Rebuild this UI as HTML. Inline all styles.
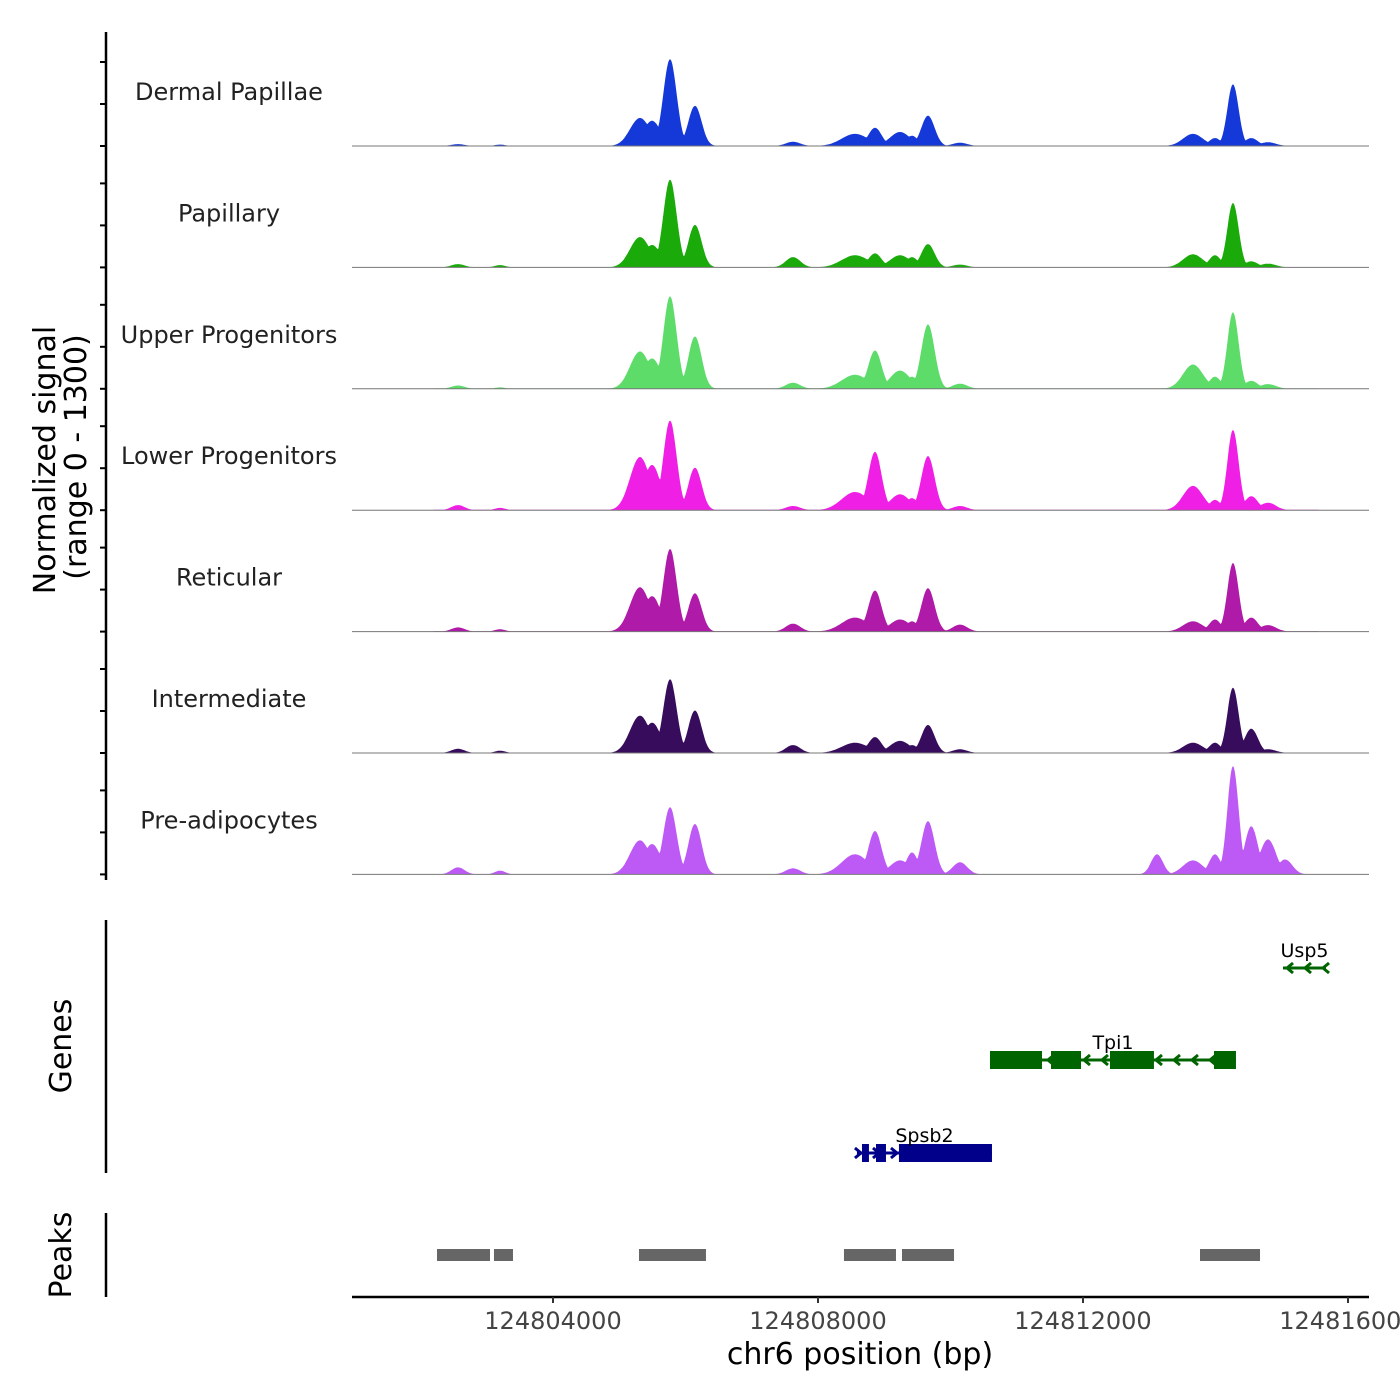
<!DOCTYPE html>
<html><head><meta charset="utf-8">
<style>
html,body{margin:0;padding:0;background:#fff;}
svg{display:block;font-family:"DejaVu Sans","Liberation Sans",sans-serif;}
</style></head>
<body>
<svg id="chart" width="1400" height="1400" viewBox="0 0 1400 1400" xmlns="http://www.w3.org/2000/svg">
<g id="tracks"></g>
<g id="leftaxis"></g>
<text transform="translate(55,460) rotate(-90)" text-anchor="middle" font-size="30" fill="#000">Normalized signal</text>
<text transform="translate(86,457) rotate(-90)" text-anchor="middle" font-size="30" fill="#000">(range 0 - 1300)</text>
<line x1="106" y1="920" x2="106" y2="1173" stroke="#000" stroke-width="2.5"/>
<text transform="translate(71,1046) rotate(-90)" text-anchor="middle" font-size="30" fill="#000">Genes</text>
<line x1="106" y1="1213" x2="106" y2="1297" stroke="#000" stroke-width="2.5"/>
<text transform="translate(71,1255) rotate(-90)" text-anchor="middle" font-size="30" fill="#000">Peaks</text>
<g id="genes"></g>
<g id="peaks"></g>
<g id="xaxis"></g>
<text x="860" y="1364" text-anchor="middle" font-size="30" fill="#000">chr6 position (bp)</text>
</svg>
<script>
const trackNames = ["Dermal Papillae","Papillary","Upper Progenitors","Lower Progenitors","Reticular","Intermediate","Pre-adipocytes"];
const trackColors = ["#1538d8","#1aaa0a","#5ddc6a","#f01fe6","#b01aa8","#380c5c","#bd5af5"];
const peakPositions = [124802566,124803200,124805313,124805494,124805766,124806143,124807623,124808558,124808860,124809238,124809419,124809660,124810143,124813117,124813660,124813992,124814264,124814540,124814792,124815050];
const peakWidths = [100,80,150,130,100,100,110,200,100,150,90,100,110,90,150,90,85,100,120,110];
const sigDermal = [20,15,300,270,930,430,45,130,195,150,110,325,35,0,130,85,660,85,40,0];
const sigPapillary = [35,25,325,240,940,455,110,130,150,130,110,250,30,0,140,130,690,65,40,0];
const sigUpper = [35,15,400,325,990,560,65,150,410,195,130,690,55,0,260,130,820,85,50,0];
const sigLower = [55,25,570,485,960,455,45,195,625,170,130,580,45,0,260,110,860,150,80,0];
const sigReticular = [45,25,475,380,885,410,85,150,440,130,110,465,75,0,110,130,735,150,70,0];
const sigIntermediate = [45,25,400,325,790,455,85,110,170,130,85,300,40,0,110,110,700,260,40,0];
const sigPreadip = [75,40,365,325,720,540,65,215,465,150,235,570,130,215,150,215,1160,515,375,160];
const trackSignals = [sigDermal,sigPapillary,sigUpper,sigLower,sigReticular,sigIntermediate,sigPreadip];
const xTicks = [124804000,124808000,124812000,124816000];
const xTickLabels = ["124804000","124808000","124812000","124816000"];
const peakStarts = [124802249,124803109,124805298,124808392,124809268,124813766];
const peakEnds = [124803049,124803396,124806309,124809177,124810053,124814672];
const tpi1Exons = [[124810596,124811381],[124811517,124811970],[124812407,124813071],[124813977,124814309]];
const spsb2Exons = [[124808664,124808769],[124808875,124809026],[124809222,124810626]];
const geneNames = ["Usp5","Tpi1","Spsb2"];
const geneStarts = [124815019,124810596,124808588];
const geneEnds = [124815668,124814309,124810626];

const NS="http://www.w3.org/2000/svg";
const X0=352,X1=1369,BP0=124800966,BP1=124816317;
const xs=bp=>X0+(bp-BP0)/(BP1-BP0)*(X1-X0);
const TRACK_H=121.4, FIRST_BASE=146, YMAX=1300;
const ys=(v,base)=>base-v/YMAX*TRACK_H;
function mk(tag,attrs,parent){const e=document.createElementNS(NS,tag);for(const k in attrs)e.setAttribute(k,attrs[k]);parent.appendChild(e);return e;}

const tracks=document.getElementById('tracks');
const leftaxis=document.getElementById('leftaxis');
mk('line',{x1:106,y1:32,x2:106,y2:880,stroke:'#000','stroke-width':2.5},leftaxis);
const START=124802200, END=124815550;
trackNames.forEach((name,i)=>{
  const base=FIRST_BASE+i*TRACK_H;
  const g=mk('g',{},tracks);
  
  
  const sig=trackSignals[i];
  let d='M'+xs(START)+','+base;
  for(let bp=START;bp<=END;bp+=15){
    let v=4;
    for(let k=0;k<peakPositions.length;k++){
      const z=(bp-peakPositions[k])/peakWidths[k];
      const c=sig[k]*Math.exp(-0.5*z*z);
      if(c>v)v=c;
    }
    d+=' L'+xs(bp).toFixed(1)+','+ys(v,base).toFixed(1);
  }
  d+=' L'+xs(END)+','+base+' Z';
  const p=mk('path',{d:d,fill:trackColors[i]},g);
  
  
  const bl=mk('line',{x1:X0,y1:base,x2:X1,y2:base,stroke:'#777','stroke-width':1},g);
  
  
  const t=mk('text',{x:229,y:base-46,'text-anchor':'middle','font-size':24,fill:'#222'},g);
  t.textContent=name;
  
  
  [0,42,84].forEach(o=>{
    const tk=mk('line',{x1:100,y1:base-o,x2:106,y2:base-o,stroke:'#000','stroke-width':2},leftaxis);
    
    
  });
});

const genes=document.getElementById('genes');
const GREEN='#006400', BLUE='#00008b';
const geneY=[968,1060,1153], geneCol=[GREEN,GREEN,BLUE], geneDir=[-1,-1,1];
const geneExons=[[],tpi1Exons,spsb2Exons];
geneNames.forEach((n,i)=>{
  const g=mk('g',{},genes);
  
  
  const y=geneY[i],c=geneCol[i],x1=xs(geneStarts[i]),x2=xs(geneEnds[i]);
  mk('line',{x1:x1,y1:y,x2:x2,y2:y,stroke:c,'stroke-width':3},g);
  const step=18;
  for(let x=x1+4;x<=x2;x+=step){
    const dx=geneDir[i]*-6;
    mk('polyline',{points:(x+dx)+','+(y-5)+' '+x+','+y+' '+(x+dx)+','+(y+5),fill:'none',stroke:c,'stroke-width':3},g);
  }
  geneExons[i].forEach(e=>{
    const r=mk('rect',{x:xs(e[0]),y:y-9,width:xs(e[1])-xs(e[0]),height:18,fill:c},g);
    
    
  });
  const t=mk('text',{x:(x1+x2)/2,y:y-11,'text-anchor':'middle','font-size':19,fill:'#000'},g);
  t.textContent=n;
  
  
});

const peaks=document.getElementById('peaks');
peakStarts.forEach((s,i)=>{
  const r=mk('rect',{x:xs(s),y:1249,width:xs(peakEnds[i])-xs(s),height:12,fill:'#666'},peaks);
  
  
});

const xaxis=document.getElementById('xaxis');
mk('line',{x1:X0,y1:1297,x2:X1,y2:1297,stroke:'#000','stroke-width':2.5},xaxis);
xTicks.forEach((t,i)=>{
  const x=xs(t);
  const tk=mk('line',{x1:x,y1:1297,x2:x,y2:1303,stroke:'#333','stroke-width':2},xaxis);
  
  
  const l=mk('text',{x:x,y:1329,'text-anchor':'middle','font-size':24,fill:'#444'},xaxis);
  l.textContent=xTickLabels[i];
  
  
});
</script>
</body></html>
